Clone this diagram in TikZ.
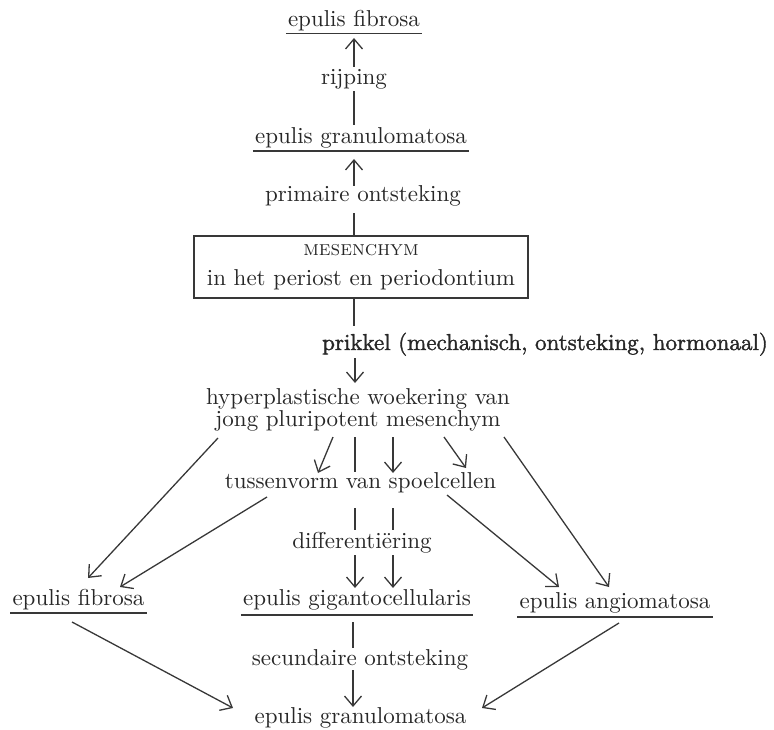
\documentclass[tikz,border=0pt]{standalone}
\usepackage{fontspec}
\setmainfont{lmroman10-regular}[Extension=.otf]
\newfontfamily\scfont{lmromancaps10-regular}[Extension=.otf]
\newfontfamily\heavyfont{lmroman10-regular}[Extension=.otf, FakeBold=1.6]
\usetikzlibrary{arrows.meta}
\definecolor{ink}{HTML}{272727}
\definecolor{lin}{HTML}{383838}
\newcommand\mfs{\fontsize{23}{28}\selectfont}
\newcommand\underl[2]{\draw[ulin] ([xshift=-2pt,yshift=-#2]#1.base west) -- ([xshift=2pt,yshift=-#2]#1.base east);}
\begin{document}
\begin{tikzpicture}[x=1pt,y=-1pt,
  lbl/.style={font=\mfs, text=ink, inner sep=0pt, anchor=base},
  conn/.style={draw=lin, line width=1.3pt},
  arr/.style={conn, -{Straight Barb[length=10pt,width=17pt,line width=1.3pt]}},
  ulin/.style={draw=lin, line width=1.7pt},
  boxed/.style={draw=lin, line width=1.2pt, font=\mfs, text=ink, align=center, minimum width=334pt, minimum height=62pt, inner sep=0pt}]
\useasboundingbox (0,0) rectangle (774,730);
% nodes
\node[lbl] (t1) at (354,27) {epulis fibrosa};
\node[lbl] (rij) at (354,85) {rijping};
\node[lbl] (g1) at (361,144) {epulis granulomatosa};
\node[lbl] (prim) at (363,202) {primaire ontsteking};
\node[boxed] (mes) at (361,267) {{\scfont\fontsize{21}{28}\selectfont mesenchym}\\[2pt]in het periost en periodontium};
\node[lbl, font=\heavyfont\mfs] (prik) at (545,350) {prikkel (mechanisch, ontsteking, hormonaal)};
\node[lbl, anchor=center, align=center, font=\fontsize{23}{22}\selectfont] (hyp) at (358,410) {hyperplastische woekering van\\jong pluripotent mesenchym};
\node[lbl] (tus) at (360.5,488) {tussenvorm van spoelcellen};
\node[lbl] (dif) at (362,548) {differentiëring};
\node[lbl] (fib) at (78.5,605) {epulis fibrosa};
\node[lbl] (gig) at (357,605) {epulis gigantocellularis};
\node[lbl] (ang) at (615,608) {epulis angiomatosa};
\node[lbl] (sec) at (360,665) {secundaire ontsteking};
\node[lbl] (g2) at (360.5,723) {epulis granulomatosa};
% underlines
\underl{t1}{6.5pt}
\underl{g1}{7pt}
\underl{fib}{8pt}
\underl{gig}{10pt}
\underl{ang}{9pt}
% connectors
\draw[arr] ([yshift=18pt]rij.base) -- ([yshift=-11pt]t1.base);
\draw[conn] ([xshift=-7pt,yshift=19pt]g1.base) -- ([yshift=-6pt]rij.base);
\draw[arr] ([xshift=-9pt,yshift=16pt]prim.base) -- ([xshift=-7pt,yshift=-15pt]g1.base);
\draw[conn] ([xshift=-7pt]mes.north) -- ([xshift=-9pt,yshift=-11pt]prim.base);
\draw[conn] ([xshift=-7pt]mes.south) -- ([xshift=-191pt,yshift=24pt]prik.base);
\draw[arr] ([xshift=-190pt,yshift=-8pt]prik.base) -- ([xshift=-3pt,yshift=27pt]hyp.center);
\draw[arr] ([xshift=-140pt,yshift=-28pt]hyp.center) -- ([xshift=9.5pt,yshift=27pt]fib.base);
\draw[arr] ([xshift=-25pt,yshift=-27pt]hyp.center) -- ([xshift=-42.5pt,yshift=15pt]tus.base);
\draw[conn] ([xshift=-3pt,yshift=-27pt]hyp.center) -- ([xshift=-5.5pt,yshift=16pt]tus.base);
\draw[arr] ([xshift=35pt,yshift=-27pt]hyp.center) -- ([xshift=32.5pt,yshift=15pt]tus.base);
\draw[arr] ([xshift=86pt,yshift=-27pt]hyp.center) -- ([xshift=105.5pt,yshift=20pt]tus.base);
\draw[arr] ([xshift=146pt,yshift=-27pt]hyp.center) -- ([xshift=-6pt,yshift=21pt]ang.base);
\draw[arr] ([xshift=-93.5pt,yshift=-9pt]tus.base) -- ([xshift=41.5pt,yshift=18pt]fib.base);
\draw[arr] ([xshift=86.5pt,yshift=-7pt]tus.base) -- ([xshift=-56pt,yshift=21pt]ang.base);
\draw[conn] ([xshift=-5.5pt,yshift=-20pt]tus.base) -- ([xshift=-7pt,yshift=18pt]dif.base);
\draw[conn] ([xshift=32.5pt,yshift=-20pt]tus.base) -- ([xshift=31pt,yshift=18pt]dif.base);
\draw[arr] ([xshift=-7pt,yshift=-7pt]dif.base) -- ([xshift=-2pt,yshift=17pt]gig.base);
\draw[arr] ([xshift=31pt,yshift=-7pt]dif.base) -- ([xshift=36pt,yshift=17pt]gig.base);
\draw[arr] ([xshift=-6.5pt,yshift=-17pt]fib.base) -- ([xshift=-127.5pt,yshift=15pt]g2.base);
\draw[conn] ([xshift=-4pt,yshift=-17pt]gig.base) -- ([xshift=-7pt,yshift=17pt]sec.base);
\draw[arr] ([xshift=-7pt,yshift=-5pt]sec.base) -- ([xshift=-7.5pt,yshift=16pt]g2.base);
\draw[arr] ([xshift=4pt,yshift=-15pt]ang.base) -- ([xshift=121.5pt,yshift=15pt]g2.base);
\end{tikzpicture}
\end{document}
